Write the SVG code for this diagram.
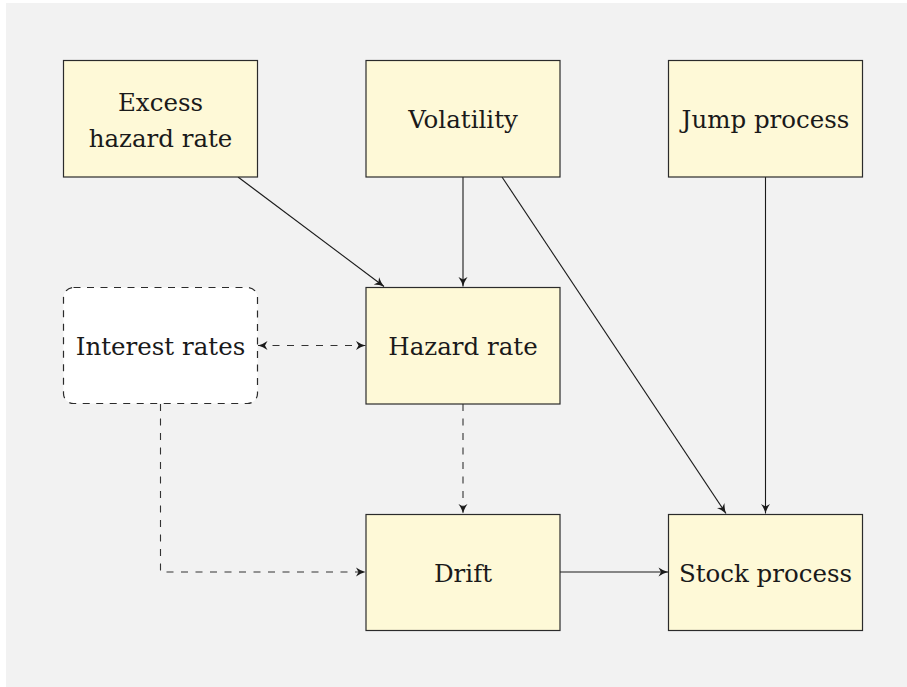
<svg xmlns="http://www.w3.org/2000/svg" width="907" height="687" viewBox="0 0 907 687">
  <style>
    .box { fill: #fef9d7; stroke: #2b2b2b; stroke-width: 1.2; }
    .soft { fill: #ffffff; stroke: #2b2b2b; stroke-width: 1.2; stroke-dasharray: 7 6.5; }
    .lbl { font-family: "DejaVu Serif", serif; font-size: 24.5px; fill: #1a1a1a; text-anchor: middle; }
    .edge { fill: none; stroke: #1a1a1a; stroke-width: 1.1; marker-end: url(#tip); }
    .dash { stroke-dasharray: 7 7.5; stroke: #333333; }
    .both { marker-start: url(#tip); }
  </style>
  <defs>
    <marker id="tip" viewBox="-10 -5 11 10" refX="0" refY="0" markerWidth="11" markerHeight="10" markerUnits="userSpaceOnUse" orient="auto-start-reverse">
      <path d="M0,0 Q-5,-1.3 -9.5,-4.5 L-7,0 L-9.5,4.5 Q-5,1.3 0,0 Z" fill="#1a1a1a"/>
    </marker>
  </defs>

  <!-- canvas -->
  <rect x="6" y="3" width="901" height="684" fill="#f2f2f2"/>

  <!-- connectors -->
  <g id="connectors">
    <path class="edge" d="M238,177 L384,286.5"/>
    <path class="edge" d="M463,177 L463,286.5"/>
    <path class="edge" d="M502,177 L726,513.5"/>
    <path class="edge" d="M765.5,177 L765.5,513.5"/>
    <path class="edge dash both" d="M258,345.5 L365.5,345.5"/>
    <path class="edge dash" d="M463,404 L463,513.5"/>
    <path class="edge dash" d="M160.5,404 L160.5,572 L365.5,572"/>
    <path class="edge" d="M560,572 L668,572"/>
  </g>

  <!-- nodes -->
  <g id="excess-hazard-rate">
    <rect class="box" x="63.5" y="60.5" width="194" height="116.5"/>
    <text class="lbl" x="160.5" y="111">Excess</text>
    <text class="lbl" x="160.5" y="147">hazard rate</text>
  </g>
  <g id="volatility">
    <rect class="box" x="366" y="60.5" width="194" height="116.5"/>
    <text class="lbl" x="463" y="128">Volatility</text>
  </g>
  <g id="jump-process">
    <rect class="box" x="668.5" y="60.5" width="194" height="116.5"/>
    <text class="lbl" x="765.5" y="128">Jump process</text>
  </g>
  <g id="interest-rates">
    <rect class="soft" x="63.5" y="287.5" width="194" height="116" rx="10" ry="10"/>
    <text class="lbl" x="160.5" y="355">Interest rates</text>
  </g>
  <g id="hazard-rate">
    <rect class="box" x="366" y="287.5" width="194" height="116.5"/>
    <text class="lbl" x="463" y="355">Hazard rate</text>
  </g>
  <g id="drift">
    <rect class="box" x="366" y="514.5" width="194" height="116"/>
    <text class="lbl" x="463" y="582">Drift</text>
  </g>
  <g id="stock-process">
    <rect class="box" x="668.5" y="514.5" width="194" height="116"/>
    <text class="lbl" x="765.5" y="582">Stock process</text>
  </g>
</svg>
